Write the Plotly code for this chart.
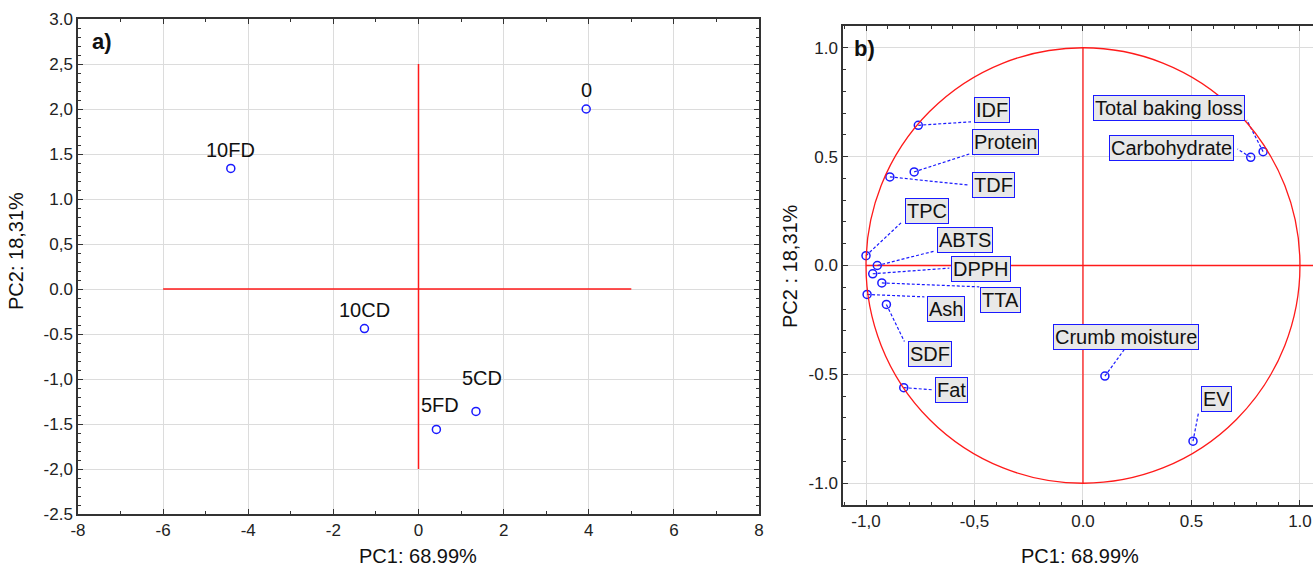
import plotly.graph_objects as go

# ---------------- data ----------------
# Panel a) scores
samples = ["0", "10FD", "10CD", "5FD", "5CD"]
score_pc1 = [3.94, -4.41, -1.27, 0.42, 1.35]
score_pc2 = [2.00, 1.34, -0.44, -1.56, -1.36]

# Panel b) loadings
variables = ["IDF", "Protein", "TDF", "TPC", "ABTS", "DPPH", "TTA", "Ash", "SDF", "Fat",
             "Total baking loss", "Carbohydrate", "Crumb moisture", "EV"]
load_pc1 = [-0.759, -0.778, -0.890, -1.000, -0.948, -0.969, -0.927, -0.995, -0.906, -0.826,
            0.830, 0.773, 0.101, 0.507]
load_pc2 = [0.644, 0.430, 0.407, 0.045, 0.000, -0.038, -0.080, -0.133, -0.179, -0.561,
            0.523, 0.497, -0.508, -0.807]

# tick labels
a_x_ticks = [-8, -6, -4, -2, 0, 2, 4, 6, 8]
a_x_text = ["-8", "-6", "-4", "-2", "0", "2", "4", "6", "8"]
a_y_ticks = [3.0, 2.5, 2.0, 1.5, 1.0, 0.5, 0.0, -0.5, -1.0, -1.5, -2.0, -2.5]
a_y_text = ["3.0", "2,5", "2,0", "1.5", "1.0", "0,5", "0.0", "-0.5", "-1,0", "-1.5", "-2,0", "-2.5"]
b_x_ticks = [-1.0, -0.5, 0.0, 0.5, 1.0]
b_x_text = ["-1,0", "-0,5", "0.0", "0.5", "1.0"]
b_y_ticks = [1.0, 0.5, 0.0, -0.5, -1.0]
b_y_text = ["1.0", "0.5", "0.0", "-0.5", "-1.0"]

# ---------------- layout helpers (positions) ----------------
W, H = 1313, 570
FONT = "Liberation Sans, Arial, sans-serif"
BLUE = "#1a1aff"
RED = "#ff1a1a"
GRID = "#dcdcdc"
FRAME = "#333333"

score_dx = [0, 0, 0, 4, 6]
score_dy = [19, 18, 19, 24, 33]

lab_x = [-0.419, -0.355, -0.413, -0.720, -0.542, -0.469, -0.381, -0.631, -0.707, -0.607,
         0.397, 0.406, 0.198, 0.613]
lab_y = [0.716, 0.565, 0.370, 0.252, 0.117, -0.014, -0.157, -0.200, -0.407, -0.571,
         0.723, 0.540, -0.327, -0.615]
lead_x = [-0.516, -0.524, -0.524, -0.834, -0.685, -0.616, -0.478, -0.731, -0.823, -0.693,
          0.755, 0.712, 0.191, 0.533]
lead_y = [0.660, 0.512, 0.369, 0.200, 0.066, -0.012, -0.098, -0.144, -0.349, -0.571,
          0.668, 0.535, -0.385, -0.673]


def px_x(p):
    return p / W


def px_y(p):
    return 1 - p / H


fig = go.Figure()

# reference cross lines panel a
fig.add_trace(go.Scatter(x=[-6, 5], y=[0, 0], mode="lines", line=dict(color=RED, width=1.5),
                         xaxis="x", yaxis="y", hoverinfo="skip", showlegend=False))
fig.add_trace(go.Scatter(x=[0, 0], y=[-2, 2.5], mode="lines", line=dict(color=RED, width=1.5),
                         xaxis="x", yaxis="y", hoverinfo="skip", showlegend=False))

# score points
fig.add_trace(go.Scatter(x=score_pc1, y=score_pc2, mode="markers",
                         marker=dict(symbol="circle-open", size=8, color=BLUE, line=dict(width=1.5)),
                         xaxis="x", yaxis="y", showlegend=False))

# panel b cross lines
fig.add_trace(go.Scatter(x=[-1, 1.2], y=[0, 0], mode="lines", line=dict(color=RED, width=1.3),
                         xaxis="x2", yaxis="y2", hoverinfo="skip", showlegend=False))
fig.add_trace(go.Scatter(x=[0, 0], y=[-1, 1], mode="lines", line=dict(color=RED, width=1.3),
                         xaxis="x2", yaxis="y2", hoverinfo="skip", showlegend=False))

# leader lines
for i in range(len(variables)):
    fig.add_trace(go.Scatter(x=[load_pc1[i], lead_x[i]], y=[load_pc2[i], lead_y[i]], mode="lines",
                             line=dict(color=BLUE, width=1.2, dash="3px,2px"),
                             xaxis="x2", yaxis="y2", hoverinfo="skip", showlegend=False))

fig.add_trace(go.Scatter(x=load_pc1, y=load_pc2, mode="markers",
                         marker=dict(symbol="circle-open", size=8, color=BLUE, line=dict(width=1.5)),
                         xaxis="x2", yaxis="y2", showlegend=False))

# unit circle
fig.add_shape(type="circle", xref="x2", yref="y2", x0=-1, y0=-1, x1=1, y1=1,
              line=dict(color=RED, width=1.3), layer="above")

annotations = []
for s, x, y, dx, dy in zip(samples, score_pc1, score_pc2, score_dx, score_dy):
    annotations.append(dict(x=x, y=y, xref="x", yref="y", text=s, showarrow=False,
                            xanchor="center", yanchor="middle",
                            xshift=dx, yshift=dy, font=dict(family=FONT, size=20, color="#111")))
for v, x, y in zip(variables, lab_x, lab_y):
    annotations.append(dict(x=x, y=y, xref="x2", yref="y2", text=v, showarrow=False,
                            xanchor="center", yanchor="middle",
                            bgcolor="#e8e8e8", bordercolor=BLUE, borderwidth=1, borderpad=1,
                            font=dict(family=FONT, size=20, color="#111")))

# titles
title_font = dict(family=FONT, size=20, color="#111")
annotations += [
    dict(x=px_x(418), y=px_y(556), text="PC1: 68.99%", font=title_font),
    dict(x=px_x(1080), y=px_y(556), text="PC1: 68.99%", font=title_font),
    dict(x=px_x(16), y=px_y(251), text="PC2: 18,31%", textangle=-90, font=title_font),
    dict(x=px_x(790), y=px_y(266), text="PC2 : 18,31%", textangle=-90, font=title_font),
    dict(x=px_x(102), y=px_y(41), text="<b>a)</b>", font=dict(family=FONT, size=22, color="#111")),
    dict(x=px_x(864), y=px_y(48), text="<b>b)</b>", font=dict(family=FONT, size=22, color="#111")),
]
for a in annotations[-6:]:
    a.update(xref="paper", yref="paper", showarrow=False, xanchor="center", yanchor="middle")

tickfont = dict(family=FONT, size=17, color="#222")
common = dict(showline=True, linecolor=FRAME, linewidth=1.5, ticks="inside", ticklen=5,
              tickcolor=FRAME, showgrid=True, gridcolor=GRID, gridwidth=1, zeroline=False,
              tickfont=tickfont, automargin=False)

fig.update_layout(
    width=W, height=H,
    margin=dict(l=0, r=0, t=0, b=0, autoexpand=False),
    paper_bgcolor="white", plot_bgcolor="white",
    showlegend=False,
    xaxis=dict(domain=[px_x(78), px_x(759)], range=[-8, 8], tickvals=a_x_ticks, ticktext=a_x_text,
               mirror="allticks", anchor="y",
               minor=dict(dtick=1, ticklen=3, ticks="inside", tickcolor=FRAME, showgrid=False), **common),
    yaxis=dict(domain=[px_y(514), px_y(19)], range=[-2.5, 3.0], tickvals=a_y_ticks, ticktext=a_y_text,
               mirror="allticks", anchor="x",
               minor=dict(dtick=0.1, ticklen=3, ticks="inside", tickcolor=FRAME, showgrid=False), **common),
    xaxis2=dict(domain=[px_x(843), 1.0], range=[-1.106, 1.06], tickvals=b_x_ticks, ticktext=b_x_text,
                mirror="allticks", anchor="y2",
                minor=dict(dtick=0.1, ticklen=3, ticks="inside", tickcolor=FRAME, showgrid=False), **common),
    yaxis2=dict(domain=[px_y(505), px_y(26)], range=[-1.1, 1.1], tickvals=b_y_ticks, ticktext=b_y_text,
                mirror=False, anchor="x2",
                minor=dict(dtick=0.1, ticklen=3, ticks="inside", tickcolor=FRAME, showgrid=False), **common),
    annotations=annotations,
)

fig.write_html("out.html", config={"displayModeBar": False},
               post_script="document.body.style.margin='0px';document.body.style.overflow='hidden';")
